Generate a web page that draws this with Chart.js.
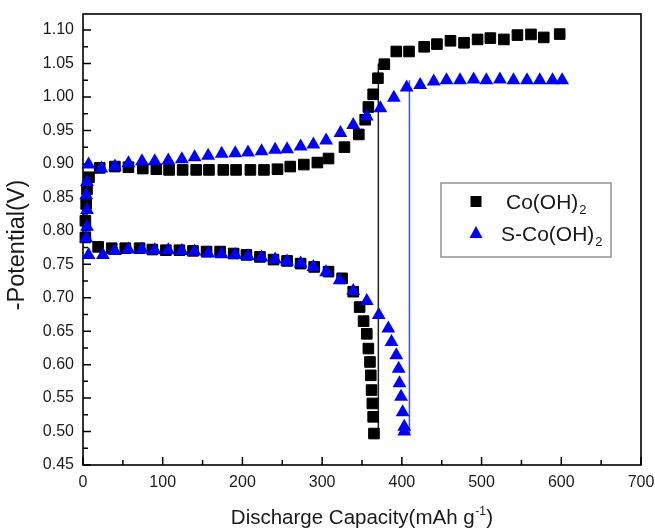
<!DOCTYPE html>
<html>
<head>
<meta charset="utf-8">
<script src="https://cdn.jsdelivr.net/npm/chart.js@4/dist/chart.umd.min.js"></script>
<style>
html,body{margin:0;padding:0;background:#fff;}
#wrap{width:655px;height:528px;position:relative;}
</style>
</head>
<body>
<div id="wrap"><canvas id="c" width="655" height="528"></canvas></div>
<script>
// ---- Data ----
const coUpperX = [3, 3, 4, 5, 7.5, 21, 40, 57, 75, 92, 108, 125, 142, 158, 176, 192, 210, 227, 244, 260, 277, 294, 308, 328, 346, 354, 358, 364, 370, 378, 393, 409, 428, 444, 461, 478, 495, 511, 528, 545, 562, 578, 598];
const coUpperY = [0.790, 0.815, 0.840, 0.862, 0.880, 0.894, 0.896, 0.895, 0.893, 0.892, 0.891, 0.891, 0.891, 0.891, 0.891, 0.891, 0.891, 0.891, 0.892, 0.896, 0.899, 0.902, 0.908, 0.925, 0.944, 0.966, 0.985, 1.004, 1.028, 1.049, 1.068, 1.068, 1.075, 1.079, 1.084, 1.081, 1.086, 1.088, 1.086, 1.0925, 1.0935, 1.089, 1.094];
const coLowerX = [19, 36, 53, 71, 87, 104, 121, 138, 155, 172, 189, 205, 222, 239, 256, 273, 290, 308, 325, 339, 347, 352, 356, 358, 360, 361, 362, 363, 364, 365];
const coLowerY = [0.776, 0.774, 0.774, 0.774, 0.772, 0.771, 0.771, 0.770, 0.769, 0.769, 0.766, 0.764, 0.761, 0.757, 0.755, 0.751, 0.746, 0.739, 0.729, 0.709, 0.686, 0.665, 0.646, 0.624, 0.604, 0.584, 0.562, 0.542, 0.522, 0.497];
const sUpperX = [4, 5, 5, 4, 5, 7, 23, 40, 57, 74, 90, 107, 124, 140, 157, 174, 191, 207, 224, 241, 256, 273, 289, 305, 323, 339, 356, 373, 390, 406, 423, 440, 456, 473, 490, 506, 523, 540, 557, 573, 589, 601];
const sUpperY = [0.789, 0.806, 0.831, 0.853, 0.873, 0.899, 0.893, 0.896, 0.901, 0.904, 0.904, 0.905, 0.907, 0.910, 0.912, 0.915, 0.916, 0.917, 0.919, 0.921, 0.922, 0.926, 0.929, 0.935, 0.946, 0.958, 0.971, 0.983, 0.999, 1.014, 1.018, 1.023, 1.025, 1.025, 1.026, 1.025, 1.026, 1.025, 1.025, 1.025, 1.025, 1.025];
const sLowerX = [7, 25, 40, 57, 74, 90, 107, 124, 140, 157, 174, 191, 207, 224, 241, 256, 273, 289, 305, 322, 339, 356, 371, 383, 387, 393, 396, 397, 399, 401, 403, 403];
const sLowerY = [0.764, 0.764, 0.770, 0.772, 0.772, 0.771, 0.771, 0.770, 0.769, 0.766, 0.765, 0.764, 0.762, 0.760, 0.757, 0.754, 0.751, 0.746, 0.738, 0.726, 0.710, 0.695, 0.674, 0.654, 0.634, 0.614, 0.594, 0.572, 0.552, 0.529, 0.507, 0.500];
// capacity marker lines
const coLineX = [370.5, 370.5];
const coLineY = [0.497, 1.050];
const sLineX = [409.5, 409.5];
const sLineY = [0.497, 1.025];
// axes
const xMin = 0, xMax = 700, xMajor = 100, xMinor = 50;
const yMin = 0.45, yMax = 1.124, yMajor = 0.05, yMinor = 0.025;
const seriesNames = ['Co(OH)', 'S-Co(OH)'];
const xTitle = 'Discharge Capacity(mAh g';
const yTitle = '-Potential(V)';

const BLUE = 'rgb(0,0,255)';
const FONT = '"Liberation Sans", Arial, sans-serif';

function zip(xs, ys){ return xs.map((x,i)=>({x:x, y:ys[i]})); }

const framePlugin = {
  id: 'frame',
  beforeDatasetsDraw(chart){
    const ctx = chart.ctx, a = chart.chartArea;
    const xs = chart.scales.x, ys = chart.scales.y;
    ctx.save();
    ctx.strokeStyle = '#000';
    ctx.lineWidth = 1.5;
    ctx.beginPath();
    xs.ticks.forEach(t => {
      const px = xs.getPixelForValue(t.value);
      const major = Math.round(t.value) % xMajor === 0;
      const len = major ? 8 : 5;
      ctx.moveTo(px, a.bottom); ctx.lineTo(px, a.bottom - len);
    });
    ys.ticks.forEach(t => {
      const py = ys.getPixelForValue(t.value);
      const major = Math.round(t.value * 1000) % Math.round(yMajor*1000) === 0;
      const len = major ? 8 : 5;
      ctx.moveTo(a.left, py); ctx.lineTo(a.left + len, py);
    });
    ctx.stroke();
    ctx.lineWidth = 1.6;
    ctx.strokeRect(a.left, a.top, a.right - a.left, a.bottom - a.top);
    ctx.restore();
  },
  afterDraw(chart){
    const ctx = chart.ctx, a = chart.chartArea;
    ctx.save();
    ctx.fillStyle = '#1a1a1a';
    const mainF = '20.5px ' + FONT;
    const supFont = '12px ' + FONT;
    ctx.font = mainF;
    ctx.textBaseline = 'alphabetic';
    const mainW = ctx.measureText(xTitle).width;
    ctx.font = supFont;
    const supW = ctx.measureText('-1').width;
    ctx.font = mainF;
    const closeW = ctx.measureText(')').width;
    const total = mainW + supW + closeW + 1;
    const cx = (a.left + a.right) / 2;
    let x0 = cx - total / 2;
    const base = 524;
    ctx.textAlign = 'left';
    ctx.fillText(xTitle, x0, base);
    ctx.font = supFont;
    ctx.fillText('-1', x0 + mainW + 0.5, base - 9);
    ctx.font = mainF;
    ctx.fillText(')', x0 + mainW + supW + 1, base);
    // y title rotated
    ctx.save();
    ctx.translate(18, 245);
    ctx.rotate(-Math.PI / 2);
    ctx.font = '23.5px ' + FONT;
    ctx.textAlign = 'center';
    ctx.textBaseline = 'middle';
    ctx.fillText(yTitle, 0, 0);
    ctx.restore();

    // legend
    const bx = 441, by = 183, bw = 170, bh = 74;
    ctx.strokeStyle = '#777';
    ctx.lineWidth = 1.2;
    ctx.strokeRect(bx, by, bw, bh);
    ctx.fillStyle = '#000';
    ctx.fillRect(476 - 5.5, 201.5 - 5.5, 11, 11);
    ctx.fillStyle = BLUE;
    ctx.beginPath();
    ctx.moveTo(476, 226); ctx.lineTo(482.5, 238); ctx.lineTo(469.5, 238); ctx.closePath();
    ctx.fill();
    ctx.fillStyle = '#1a1a1a';
    ctx.textAlign = 'left';
    ctx.textBaseline = 'alphabetic';
    const entries = [[seriesNames[0], 506, 209], [seriesNames[1], 501, 241]];
    entries.forEach(([t, x, y]) => {
      ctx.font = '21px ' + FONT;
      ctx.fillText(t, x, y);
      const w = ctx.measureText(t).width;
      ctx.font = '13px ' + FONT;
      ctx.fillText('2', x + w + 1, y + 5);
    });
    ctx.restore();
  }
};

const chart = new Chart(document.getElementById('c'), {
  type: 'scatter',
  data: {
    datasets: [
      { label: 'coLine', data: zip(coLineX, coLineY), showLine: true, borderColor: '#222', borderWidth: 1.5, pointRadius: 0, order: 5, clip: false },
      { label: 'sLine', data: zip(sLineX, sLineY), showLine: true, borderColor: '#3a4cff', borderWidth: 1.5, pointRadius: 0, order: 5, clip: false },
      { label: seriesNames[0] + '2 upper', data: zip(coUpperX, coUpperY), pointStyle: 'rect', pointRadius: 7.5, backgroundColor: '#000', borderColor: '#000', borderWidth: 1, order: 2, clip: false },
      { label: seriesNames[0] + '2 lower', data: zip(coLowerX, coLowerY), pointStyle: 'rect', pointRadius: 7.5, backgroundColor: '#000', borderColor: '#000', borderWidth: 1, order: 2, clip: false },
      { label: seriesNames[1] + '2 upper', data: zip(sUpperX, sUpperY), pointStyle: 'triangle', pointRadius: 8, backgroundColor: BLUE, borderColor: BLUE, borderWidth: 0, order: 1, clip: false },
      { label: seriesNames[1] + '2 lower', data: zip(sLowerX, sLowerY), pointStyle: 'triangle', pointRadius: 8, backgroundColor: BLUE, borderColor: BLUE, borderWidth: 0, order: 1, clip: false }
    ]
  },
  options: {
    responsive: false,
    animation: false,
    events: [],
    layout: { padding: { left: 0, top: 14, right: 14, bottom: 0 } },
    plugins: { legend: { display: false }, tooltip: { enabled: false } },
    scales: {
      x: {
        type: 'linear', min: xMin, max: xMax,
        grid: { display: false, drawTicks: false },
        border: { display: false },
        ticks: {
          stepSize: xMinor, autoSkip: false, maxRotation: 0, padding: 8,
          color: '#1a1a1a', font: { family: FONT, size: 16 },
          callback: v => (Math.round(v) % xMajor === 0 ? String(Math.round(v)) : '')
        },
        afterFit: s => { s.height = 63; s.paddingLeft = 0; s.paddingRight = 0; }
      },
      y: {
        type: 'linear', min: yMin, max: yMax,
        grid: { display: false, drawTicks: false },
        border: { display: false },
        ticks: {
          stepSize: yMinor, autoSkip: false, includeBounds: false, padding: 9,
          color: '#1a1a1a', font: { family: FONT, size: 16 },
          callback: v => (Math.round(v * 1000) % Math.round(yMajor * 1000) === 0 ? v.toFixed(2) : '')
        },
        afterFit: s => { s.width = 83; s.paddingTop = 0; s.paddingBottom = 0; }
      }
    }
  },
  plugins: [framePlugin]
});
</script>
</body>
</html>
